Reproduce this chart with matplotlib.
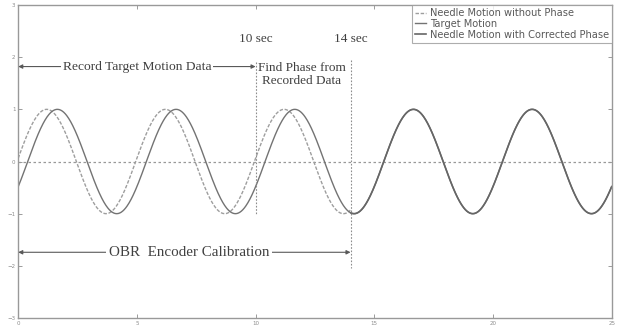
import matplotlib.pyplot as plt
import numpy as np

# values (seconds, arbitrary amplitude units)
x_ticks = [0, 5, 10, 15, 20, 25]
y_ticks = [-3, -2, -1, 0, 1, 2, 3]
period_s = 5.0          # peak-to-peak spacing
amplitude = 1.0
target_peak_s = 1.65    # first peak of the target motion
needle_lead_s = 0.45    # uncorrected needle runs ahead of the target
phase_found_s = 14      # corrected needle starts here
record_end_s = 10
t_end = 25

t_all = np.linspace(0, t_end, 1200)
t_pre = t_all[t_all <= phase_found_s]
t_post = t_all[t_all >= phase_found_s]

def wave(t, peak):
    return amplitude * np.cos(2 * np.pi * (t - peak) / period_s)

fig = plt.figure(figsize=(6.28, 3.33), dpi=100)
ax = fig.add_axes([0.029, 0.045, 0.945, 0.94])

serif = 'Liberation Serif'
grey_dash = '0.62'
grey_solid = '0.45'

ax.axhline(0, color='0.6', lw=0.9, ls=(0, (2, 2)))

l1, = ax.plot(t_pre, wave(t_pre, target_peak_s - needle_lead_s),
              color=grey_dash, lw=1.0, ls=(0, (2.5, 1.2)), label='Needle Motion without Phase')
l2, = ax.plot(t_all, wave(t_all, target_peak_s), color=grey_solid, lw=1.0, label='Target Motion')
l3, = ax.plot(t_post, wave(t_post, target_peak_s), color='0.4', lw=1.2,
              label='Needle Motion with Corrected Phase')

# event markers
ax.plot([record_end_s, record_end_s], [1.9, -1.0], color='0.55', lw=0.8, ls=(0, (1.5, 1.5)))
ax.plot([phase_found_s, phase_found_s], [1.95, -2.05], color='0.55', lw=0.8, ls=(0, (1.5, 1.5)))

ax.text(record_end_s, 2.35, '10 sec', family=serif, fontsize=9.5, color='0.25', ha='center', va='center')
ax.text(phase_found_s, 2.35, '14 sec', family=serif, fontsize=9.5, color='0.25', ha='center', va='center')

arrow = dict(arrowstyle='<|-|>', color='0.35', lw=0.8, mutation_scale=6, shrinkA=0, shrinkB=0)
ax.annotate('', xy=(0, 1.82), xytext=(record_end_s, 1.82), arrowprops=arrow)
ax.text(5.0, 1.82, 'Record Target Motion Data', family=serif, fontsize=9.7, color='0.25',
        ha='center', va='center', bbox=dict(fc='white', ec='none', pad=1.5))
ax.text(11.95, 1.66, 'Find Phase from\nRecorded Data', family=serif, fontsize=9.5, color='0.25',
        ha='center', va='center', linespacing=1.1, bbox=dict(fc='white', ec='none', pad=0.3))

ax.annotate('', xy=(0, -1.74), xytext=(phase_found_s, -1.74), arrowprops=arrow)
ax.text(7.2, -1.74, 'OBR  Encoder Calibration', family=serif, fontsize=10.8, color='0.25',
        ha='center', va='center', bbox=dict(fc='white', ec='none', pad=2))

ax.set_xlim(0, t_end)
ax.set_ylim(-3, 3)
ax.set_xticks(x_ticks)
ax.set_yticks(y_ticks)
ax.tick_params(direction='in', length=3, width=0.6, colors='0.55', labelsize=4, pad=2,
               top=True, right=True)
for s in ax.spines.values():
    s.set_color('0.6')
    s.set_linewidth(1.0)

leg = ax.legend(handles=[l1, l2, l3], loc='upper right', fontsize=7.1, frameon=True,
                fancybox=False, handlelength=1.1, handletextpad=0.4, borderpad=0.3,
                labelspacing=0.1, borderaxespad=0.0)
leg.get_frame().set_edgecolor('0.6')
leg.get_frame().set_linewidth(0.8)
for txt in leg.get_texts():
    txt.set_color('0.35')

fig.savefig('out.png', dpi=100)
